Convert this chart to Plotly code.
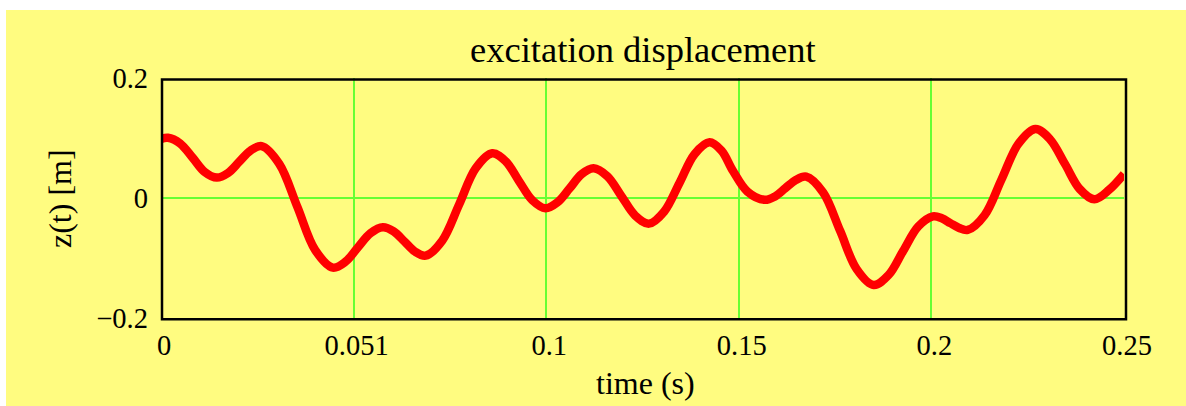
import plotly.graph_objects as go

# excitation displacement samples: time (s) and z(t) (m)
time_s = [0.0000, 0.0018, 0.0050, 0.0082, 0.0113, 0.0145, 0.0174, 0.0203,
          0.0232, 0.0261, 0.0307, 0.0354, 0.0400, 0.0446, 0.0479, 0.0511,
          0.0544, 0.0576, 0.0604, 0.0632, 0.0659, 0.0687, 0.0730, 0.0774,
          0.0817, 0.0860, 0.0895, 0.0929, 0.0964, 0.0998, 0.1029, 0.1061,
          0.1092, 0.1123, 0.1159, 0.1195, 0.1231, 0.1267, 0.1306, 0.1346,
          0.1385, 0.1424, 0.1455, 0.1485, 0.1522, 0.1567, 0.1594, 0.1621,
          0.1648, 0.1675, 0.1719, 0.1763, 0.1806, 0.1850, 0.1889, 0.1927,
          0.1966, 0.2004, 0.2027, 0.2049, 0.2072, 0.2094, 0.2138, 0.2182,
          0.2226, 0.2270, 0.2308, 0.2347, 0.2385, 0.2423, 0.2462, 0.2500]
z_m = [0.0985, 0.1005, 0.0908, 0.0673, 0.0437, 0.0340, 0.0417, 0.0603,
       0.0788, 0.0865, 0.0569, -0.0148, -0.0864, -0.1160, -0.1062, -0.0824,
       -0.0586, -0.0488, -0.0557, -0.0725, -0.0892, -0.0961, -0.0711, -0.0108,
       0.0495, 0.0745, 0.0611, 0.0287, -0.0038, -0.0172, -0.0074, 0.0162,
       0.0397, 0.0495, 0.0360, 0.0034, -0.0292, -0.0427, -0.0229, 0.0251,
       0.0730, 0.0928, 0.0790, 0.0450, 0.0110, -0.0030, 0.0027, 0.0164,
       0.0300, 0.0357, 0.0092, -0.0547, -0.1185, -0.1450, -0.1282, -0.0878,
       -0.0473, -0.0305, -0.0338, -0.0419, -0.0500, -0.0533, -0.0287, 0.0309,
       0.0904, 0.1150, 0.0978, 0.0564, 0.0150, -0.0022, 0.0140, 0.0400]

x_tickvals = [0, 0.05, 0.1, 0.15, 0.2, 0.25]
x_ticktext = ["0", "0.051", "0.1", "0.15", "0.2", "0.25"]
y_tickvals = [-0.2, 0, 0.2]
y_ticktext = ["\u22120.2", "0", "0.2"]

W, H = 1186, 406
L, R, T, B = 161, 62, 78, 88
pw, ph = W - L - R, H - T - B

YELLOW = "#FFFC80"
GRID = "#66FF33"
FONT = "Liberation Serif"


def px_x(p):
    return (p - L) / pw


def px_y(p):
    return (H - B - p) / ph


fig = go.Figure()
fig.add_trace(go.Scatter(
    x=time_s, y=z_m, mode="lines",
    line=dict(color="#FF0000", width=8.5, shape="spline", smoothing=1.0),
    hoverinfo="skip", showlegend=False,
))

fig.update_layout(
    width=W, height=H,
    margin=dict(l=L, r=R, t=T, b=B, pad=0),
    paper_bgcolor="white",
    plot_bgcolor=YELLOW,
    font=dict(family=FONT, color="black", size=28.5),
    showlegend=False,
    xaxis=dict(
        range=[0, 0.25], tickvals=x_tickvals, ticktext=x_ticktext,
        showgrid=True, gridcolor=GRID, gridwidth=1.5, zeroline=False,
        showline=False, ticks="", ticklabelstandoff=7, ticklabelshift=3,
        tickfont=dict(size=28.5),
    ),
    yaxis=dict(
        range=[-0.2, 0.2], tickvals=y_tickvals, ticktext=y_ticktext,
        showgrid=True, gridcolor=GRID, gridwidth=1.5, zeroline=False,
        showline=False, ticks="", ticklabelstandoff=12,
        tickfont=dict(size=28.5),
    ),
    shapes=[
        # page background panel
        dict(type="rect", xref="paper", yref="paper", layer="below",
             x0=px_x(6), x1=px_x(W + 5), y0=px_y(H + 5), y1=px_y(10),
             fillcolor=YELLOW, line=dict(width=0)),
        # plot frame
        dict(type="rect", xref="paper", yref="paper", layer="above",
             x0=px_x(162), x1=px_x(1126), y0=px_y(319.3), y1=px_y(79.5),
             fillcolor="rgba(0,0,0,0)", line=dict(color="black", width=2.5)),
    ],
    annotations=[
        dict(text="excitation displacement", xref="paper", yref="paper",
             x=0.5, y=px_y(49), xanchor="center", yanchor="middle",
             showarrow=False, font=dict(size=36.5)),
        dict(text="time (s)", xref="paper", yref="paper",
             x=px_x(645), y=px_y(383), xanchor="center", yanchor="middle",
             showarrow=False, font=dict(size=32)),
        dict(text="z(t) [m]", xref="paper", yref="paper",
             x=px_x(60), y=px_y(199), xanchor="center", yanchor="middle",
             textangle=-90, showarrow=False, font=dict(size=32)),
    ],
)

fig.write_html("out.html")
